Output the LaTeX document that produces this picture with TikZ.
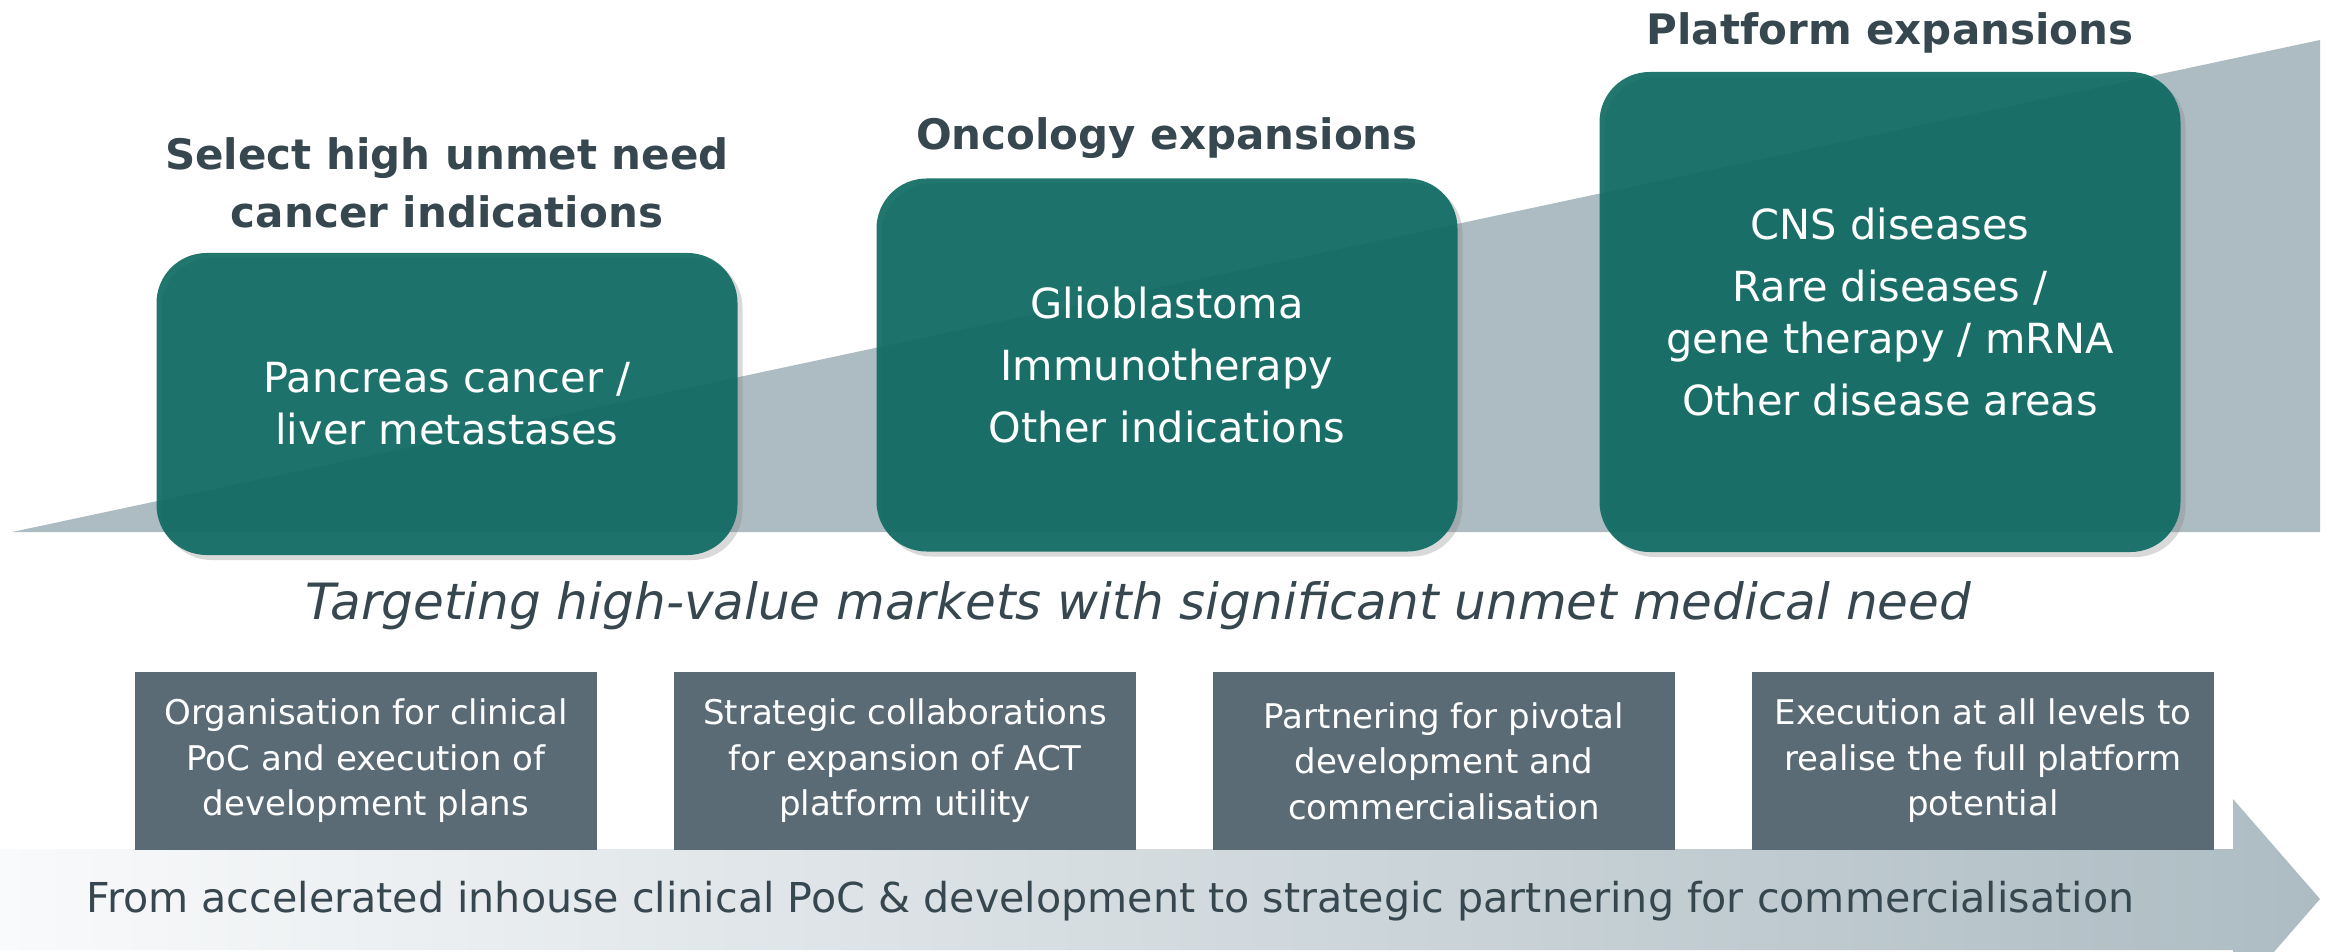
\documentclass[tikz,border=0pt]{standalone}
\usepackage{fontspec}
\setmainfont{DejaVu Sans}[BoldFont={DejaVu Sans Bold},ItalicFont={DejaVu Sans Oblique}]
\usetikzlibrary{positioning,shadows}
\definecolor{slatetext}{RGB}{55,71,79}
\definecolor{tealbox}{RGB}{14,107,98}
\definecolor{wedge}{RGB}{173,188,195}
\definecolor{slatebox}{RGB}{90,107,118}
\definecolor{arrowlight}{RGB}{249,250,251}
\tikzset{
  market/.style={rounded corners=50pt,fill=tealbox,fill opacity=.92,text opacity=1,text=white,
    minimum width=581pt,align=center,font=\fontsize{41.5}{52}\selectfont,
    drop shadow={shadow xshift=5pt,shadow yshift=-5pt,opacity=.3}},
  phase/.style={font=\bfseries\fontsize{42}{58}\selectfont,text=slatetext,align=center,inner sep=0pt},
  enabler/.style={fill=slatebox,text=white,minimum width=462pt,minimum height=178pt,
    align=center,font=\fontsize{34}{45.5}\selectfont,inner sep=0pt,outer sep=0pt}
}
\begin{document}
\begin{tikzpicture}[x=1pt,y=-1pt]
\useasboundingbox (0,0) rectangle (2338,952);
% rising wedge behind the indication boxes
\fill[wedge] (12,532) -- (2320,40) -- (2320,532) -- cycle;
\node[market,minimum height=302pt](S) at (447,404){Pancreas cancer /\\liver metastases};
\node[market,minimum height=373pt](O) at (1167,365){Glioblastoma\\[10pt]Immunotherapy\\[10pt]Other indications};
\node[market,minimum height=480pt](P) at (1890,312){CNS diseases\\[10pt]Rare diseases /\\gene therapy / mRNA\\[10pt]Other disease areas};
\node[phase,above=8pt of S](ST){Select high unmet need\\cancer indications\strut};
\node[phase,above=11pt of O](OT){Oncology expansions\strut};
\node[phase,above=10pt of P](PT){Platform expansions\strut};
\node[font=\itshape\fontsize{50}{60}\selectfont,text=slatetext,anchor=base](T) at (1138,619){Targeting high-value markets with significant unmet medical need};
% bottom arrow
\shade[left color=arrowlight,right color=wedge] (0,849) -- (2233,849) -- (2233,799) -- (2320,899) -- (2233,999) -- (2233,950) -- (0,950) -- cycle;
\node[font=\fontsize{41.2}{50}\selectfont,text=slatetext,anchor=base west](F) at (83,912){From accelerated inhouse clinical PoC \& development to strategic partnering for commercialisation};
\node[enabler](E1) at (366,761){Organisation for clinical\\PoC and execution of\\development plans};
\node[enabler,right=77pt of E1](E2){Strategic collaborations\\for expansion of ACT\\platform utility};
\node[enabler,right=77pt of E2](E3){Partnering for pivotal\\development and\\commercialisation};
\node[enabler,right=77pt of E3](E4){Execution at all levels to\\realise the full platform\\potential};
\end{tikzpicture}
\end{document}
